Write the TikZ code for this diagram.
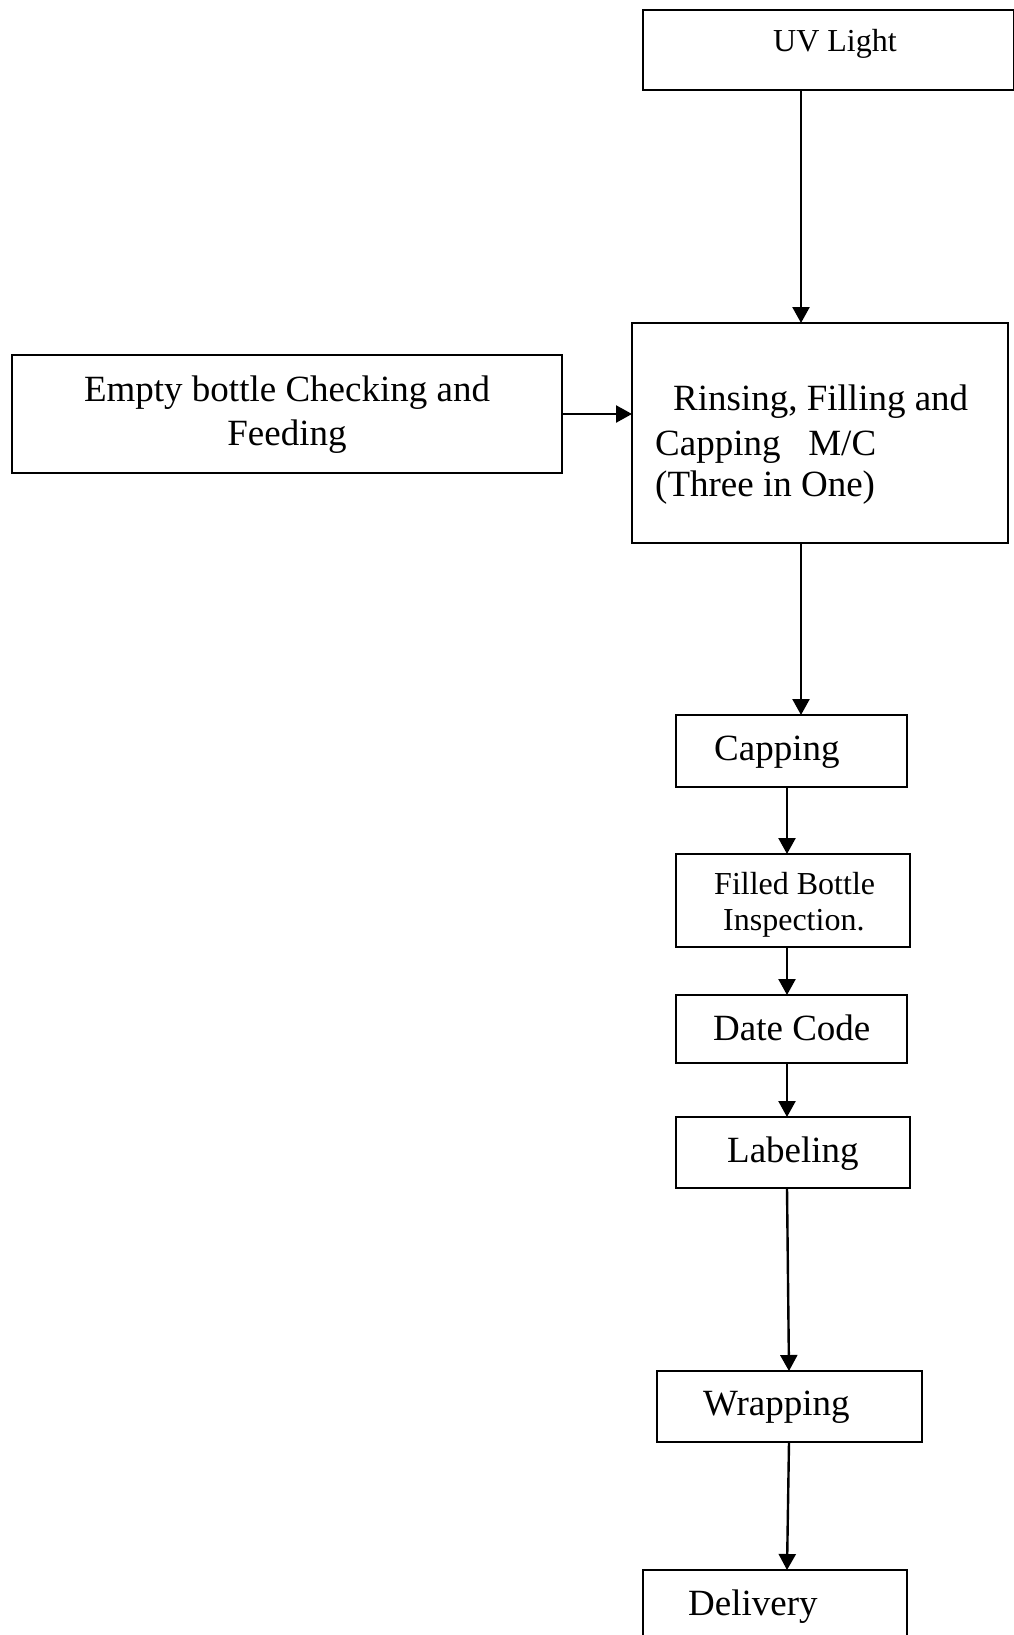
\documentclass[tikz,border=0pt]{standalone}
\usepackage{fontspec}
\setmainfont{Liberation Serif}
\usetikzlibrary{arrows.meta}
\begin{document}
\begin{tikzpicture}[x=1pt,y=-1pt,
  box/.style={draw, line width=2.4pt, inner sep=0pt, outer sep=0pt, anchor=north west},
  arr/.style={line width=2.4pt, -{Triangle[width=17pt,length=16pt]}},
  bigtext/.style={font=\fontsize{37}{42.5}\selectfont, inner sep=0pt, anchor=base west},
  smalltext/.style={font=\fontsize{32}{37}\selectfont, inner sep=0pt, anchor=base west}]
\useasboundingbox (0,0) rectangle (1013,1635);

% process boxes
\node[box, minimum width=371pt, minimum height=80pt]  (uv)     at (643,10)   {};
\node[box, minimum width=550pt, minimum height=118pt] (empty)  at (12,355)   {};
\node[box, minimum width=376pt, minimum height=220pt] (rinse)  at (632,323)  {};
\node[box, minimum width=231pt, minimum height=72pt]  (cap)    at (676,715)  {};
\node[box, minimum width=234pt, minimum height=93pt]  (filled) at (676,854)  {};
\node[box, minimum width=231pt, minimum height=68pt]  (date)   at (676,995)  {};
\node[box, minimum width=234pt, minimum height=71pt]  (lab)    at (676,1117) {};
\node[box, minimum width=265pt, minimum height=71pt]  (wrap)   at (657,1371) {};
\node[box, minimum width=264pt, minimum height=75pt]  (deliv)  at (643,1570) {};

% box labels
\node[smalltext] (uvt) at (773,52) {UV Light};
\node[bigtext, anchor=base] (e1) at (287,401) {Empty bottle Checking and};
\node[bigtext, anchor=base] (e2) at (287,445) {Feeding};
\node[bigtext] (r1) at (673,410) {Rinsing, Filling and};
\node[bigtext] (r2) at (655,455) {Capping\ \ \ M/C};
\node[bigtext] (r3) at (655,496) {(Three in One)};
\node[bigtext] (capt) at (714,760) {Capping};
\node[smalltext] (f1) at (714,894) {Filled Bottle};
\node[smalltext] (f2) at (723,930) {Inspection.};
\node[bigtext] (datet) at (713,1040) {Date Code};
\node[bigtext] (labt) at (727,1162) {Labeling};
\node[bigtext] (wrapt) at (703,1415) {Wrapping};
\node[bigtext] (delt) at (688,1615) {Delivery};

% connector columns
\coordinate (xa) at (801,0);
\coordinate (xb) at (787,0);
\coordinate (xc) at (789,0);

\draw[arr] (uv.south -| xa) -- (rinse.north -| xa);
\draw[arr] (empty.east) -- (rinse.west |- empty.east);
\draw[arr] (rinse.south -| xa) -- (cap.north -| xa);
\draw[arr] (cap.south -| xb) -- (filled.north -| xb);
\draw[arr] (filled.south -| xb) -- (date.north -| xb);
\draw[arr] (date.south -| xb) -- (lab.north -| xb);
\draw[arr] (lab.south -| xb) -- (wrap.north -| xc);
\draw[arr] (wrap.south -| xc) -- (deliv.north -| xb);
\end{tikzpicture}
\end{document}
